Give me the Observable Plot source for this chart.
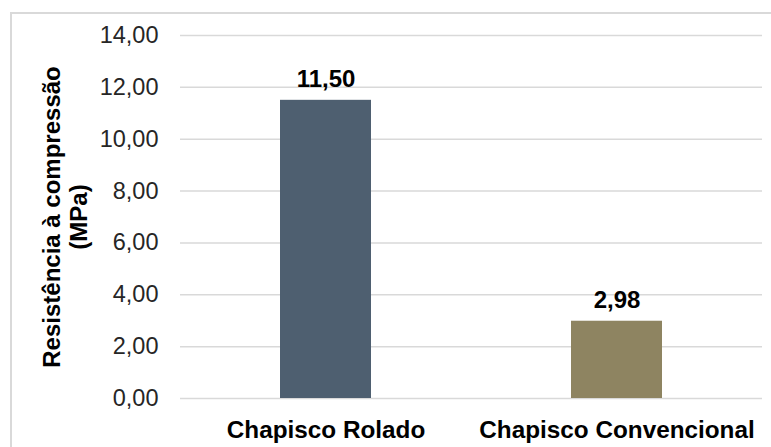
<!DOCTYPE html>
<html>
<head>
<meta charset="utf-8">
<script src="https://cdn.jsdelivr.net/npm/d3@7"></script>
<script src="https://cdn.jsdelivr.net/npm/@observablehq/plot@0.6"></script>
<style>
  html, body { margin: 0; padding: 0; background: #fff; overflow: hidden; }
  #frame { position: absolute; left: 10px; top: 12px; width: 800px; height: 500px; border: 2px solid #d9d9d9; box-sizing: border-box; }
  #chart { position: absolute; left: 0; top: 0; }
  #chart svg { background: transparent; }
</style>
</head>
<body>
<div id="frame"></div>
<div id="chart"></div>
<script>
const categories = ["Chapisco Rolado", "Chapisco Convencional"];
const values = [11.50, 2.98];
const colors = ["#4e5f70", "#8e8461"];
const yTicks = [0, 2, 4, 6, 8, 10, 12, 14];
const yTitle = "Resistência à compressão\n(MPa)";

const data = categories.map((c, i) => ({category: c, value: values[i], color: colors[i]}));
const fmt = v => d3.format(".2f")(v).replace(".", ",");
const FONT = "'Liberation Sans', Arial, sans-serif";

const chart = Plot.plot({
  width: 771,
  height: 447,
  marginLeft: 180,
  marginRight: 9,
  marginTop: 35,
  marginBottom: 49,
  style: {fontFamily: FONT, background: "transparent", color: "#000"},
  x: {domain: categories, paddingInner: 0.687, paddingOuter: 0.3435, label: null},
  y: {domain: [0, 14], label: null},
  marks: [
    Plot.gridY(yTicks, {stroke: "#d9d9d9", strokeOpacity: 1, strokeWidth: 1.5}),
    Plot.barY(data, {x: "category", y: "value", fill: "color"}),
    Plot.text(data, {x: "category", y: "value", text: d => fmt(d.value), lineAnchor: "bottom", dy: -13, fontSize: 24, fontWeight: "bold", fill: "#000"}),
    Plot.axisY(yTicks, {tickSize: 0, tickPadding: 22, tickFormat: fmt, fontSize: 23.5, fill: "#262626", label: null}),
    Plot.axisX({tickSize: 0, tickPadding: 22, fontSize: 24.3, fontWeight: "bold", fill: "#000", label: null}),
    Plot.text([yTitle], {text: d => d, frameAnchor: "left", rotate: -90, dx: -116, fontSize: 24, fontWeight: "bold", lineHeight: 1.12, lineAnchor: "middle", textAnchor: "middle", fill: "#000"})
  ]
});
document.getElementById("chart").appendChild(chart);
</script>
</body>
</html>
